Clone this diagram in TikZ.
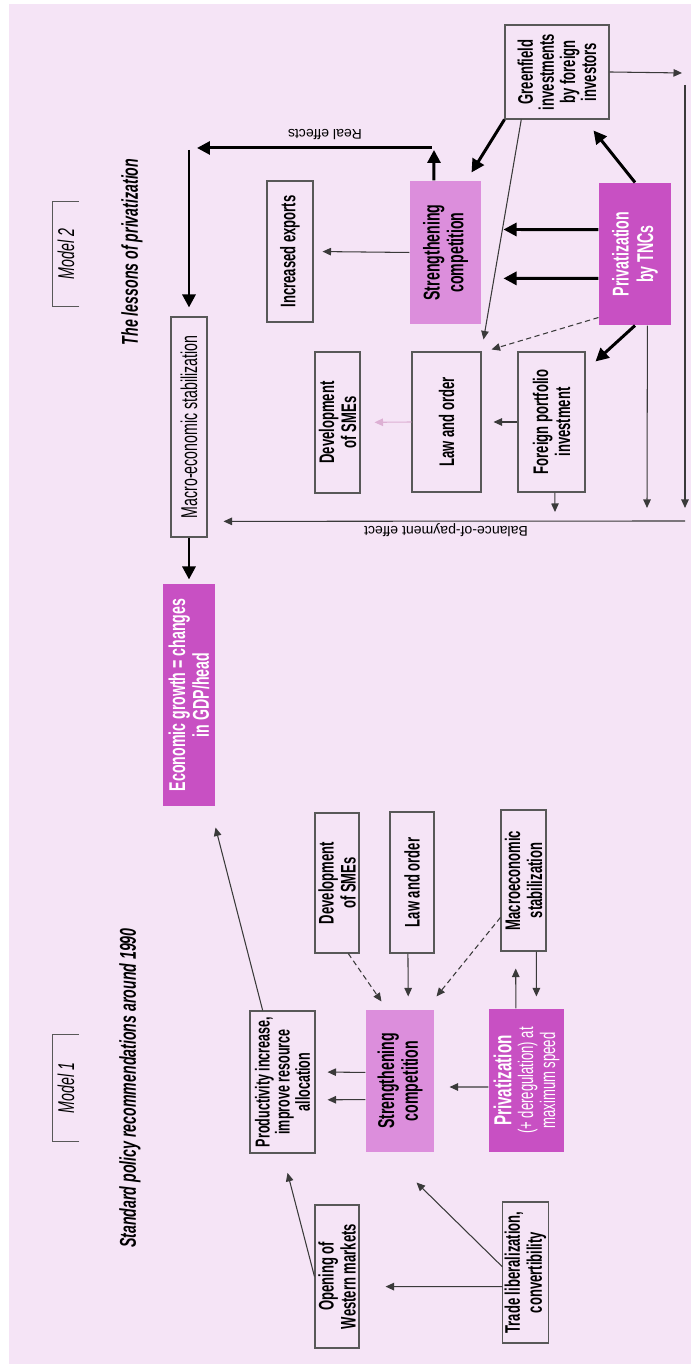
\documentclass[tikz,border=0pt]{standalone}
\usepackage{fontspec}
\setmainfont{Liberation Sans}[FakeStretch=0.62]
\newfontfamily\tagfont{Liberation Sans}
\usetikzlibrary{arrows.meta,calc}
\definecolor{bgpink}{HTML}{F5E4F6}
\definecolor{darkmag}{HTML}{C850C3}
\definecolor{lightmag}{HTML}{DC8EDC}
\definecolor{boxline}{HTML}{585858}
\definecolor{arrgray}{HTML}{3A3A3A}
\definecolor{faintline}{HTML}{DDB0D4}

\begin{document}
\begin{tikzpicture}[x=0.02cm, y=0.02cm, rotate=90, transform shape,
  box/.style={draw=boxline, line width=0.6pt, align=center, inner sep=1pt,
              font=\fontsize{12}{12.5}\selectfont\bfseries},
  hot/.style={box, draw=none, fill=darkmag, text=white},
  warm/.style={box, draw=none, fill=lightmag},
  sz/.style 2 args={minimum width=#1*0.02cm, minimum height=#2*0.02cm},
  big/.style={line width=1.7pt, -{Triangle[length=0.26cm,width=0.26cm]}},
  thin/.style={line width=0.6pt, draw=arrgray, -{Triangle[length=0.17cm,width=0.15cm]}},
  dsh/.style={thin, dash pattern=on 3pt off 2pt},
  tag/.style={font=\tagfont\fontsize{8}{9}\selectfont, inner sep=0pt},
  headline/.style={font=\fontsize{13}{14}\selectfont\bfseries\itshape, inner sep=0pt},
  modeltag/.style={font=\fontsize{13}{14}\selectfont\itshape, inner sep=0pt}
]
% page and background
\useasboundingbox (0,0) rectangle (1364,691);
\fill[white] (0,0) rectangle (1364,691);
\fill[bgpink] (0,0) rectangle (1360,682);

% ---------------- Model 2 ----------------
\node[modeltag, sz={104}{26}] (mTwo) at (1110,625) {Model 2};
\draw[boxline, line width=0.6pt] (mTwo.south west) -- (mTwo.north west) -- (mTwo.north east) -- (mTwo.south east);
\node[headline] (tTwo) at (1112,559) {The lessons of privatization};

\node[box, sz={94}{104}, font=\fontsize{12}{12}\selectfont\bfseries] (green) at (1292,134) {Greenfield\\investments\\by foreign\\investors};
\node[warm, sz={143}{71}, font=\fontsize{13}{13.5}\selectfont\bfseries] (strB) at (1111.5,245.5) {Strengthening\\competition};
\node[hot, sz={142}{72}, font=\fontsize{13}{14}\selectfont\bfseries] (tnc) at (1110,56) {Privatization\\by TNCs};
\node[box, sz={141}{46}] (expo) at (1112.5,401) {Increased exports};
\node[box, sz={140}{69}] (lawB) at (942,244.5) {Law and order};
\node[box, sz={141}{45}] (smeB) at (941.5,353.5) {Development\\of SMEs};
\node[box, sz={140}{67}] (fpi) at (942,139.5) {Foreign portfolio\\investment};
\node[box, sz={220}{36}, font=\fontsize{13}{13}\selectfont] (macB) at (937,502) {Macro-economic stabilization};
\node[hot, sz={222}{52}, font=\fontsize{13}{13.5}\selectfont\bfseries] (growth) at (669,502) {Economic growth = changes\\in GDP/head};

% real effects loop back to stabilization
\coordinate (re1) at (1214,257);
\coordinate (re2) at (1216,259);
\coordinate (re3) at (1216,494);
\coordinate (re4) at (1214,502);
\draw[big] ($(strB.south east)!0.66!(strB.north east)$) -- (re1);
\draw[big] (re2) -- (re3);
\draw[big, shorten >=0.18cm] (re4) -- (macB.east);
\node[tag, rotate=90] (reLab) at (1229,366) {Real effects};

% privatization by TNCs
\draw[big, shorten >=0.44cm] ($(tnc.north west)!0.67!(tnc.north east)$) -- ($(strB.south west)!0.66!(strB.south east)$);
\draw[big, shorten >=0.44cm] ($(tnc.north west)!0.33!(tnc.north east)$) -- ($(strB.south west)!0.32!(strB.south east)$);
\draw[big] (tnc.east) -- ($(green.south west)+(-11,16)$);
\draw[big] (tnc.west) -- ($(fpi.south east)+(-10,-10)$);
\draw[big] (green.north west) -- ($(strB.south east)+(8,10)$);
\draw[dsh] ($(tnc.north west)+(8,0)$) -- ($(lawB.south east)+(2,-10)$);
\draw[thin] ($(green.south west)!0.84!(green.north west)$) -- ($(lawB.south east)+(12,-2)$);

\draw[thin, shorten >=0.18cm] (strB.north) -- (expo.south);
\draw[thin, shorten >=0.24cm] (fpi.north) -- (lawB.south);
\draw[thin, draw=faintline, shorten >=0.28cm] (lawB.north) -- (smeB.south);

% balance-of-payment effect
\coordinate (bp1) at (852,136);
\coordinate (bp2) at (856,44);
\coordinate (bp3) at (1291,9);
\coordinate (bp4) at (1279,6);
\coordinate (bp5) at (856,6);
\coordinate (bp6) at (843,6);
\draw[thin] ($(fpi.south west)!0.45!(fpi.north west)$) -- (bp1);
\draw[thin] ($(tnc.south west)!0.33!(tnc.north west)$) -- (bp2);
\draw[thin] (green.south) -- (bp3);
\draw[thin] (bp4) -- (bp5);
\draw[thin, shorten >=0.32cm] (bp6) -- ($(macB.south west)!0.073!(macB.south east)$);
\node[tag, rotate=90] (bpLab) at (834,245) {Balance-of-payment effect};

\draw[big, shorten >=0.08cm] (macB.west) -- (growth.east);

% ---------------- Model 1 ----------------
\node[modeltag, sz={107}{26}] (mOne) at (276,625) {Model 1};
\draw[boxline, line width=0.6pt] (mOne.south west) -- (mOne.north west) -- (mOne.north east) -- (mOne.south east);
\node[headline] (tOne) at (276,561) {Standard policy recommendations around 1990};

\node[box, sz={140}{44}] (smeA) at (481,354) {Development\\of SMEs};
\node[box, sz={141}{44}] (lawA) at (481.5,279) {Law and order};
\node[box, sz={141}{45}] (macA) at (483.5,167.5) {Macroeconomic\\stabilization};
\node[box, sz={142}{65}, font=\fontsize{11.5}{11.5}\selectfont\bfseries] (prod) at (282,408.5) {Productivity increase,\\improve resource\\allocation};
\node[warm, sz={142}{68}, font=\fontsize{13}{13.5}\selectfont\bfseries] (strA) at (283,291) {Strengthening\\competition};
\node[hot, sz={143}{75}, font=\fontsize{12}{12.5}\selectfont] (prvA) at (283.5,164.5) {{\bfseries\fontsize{14}{12.5}\selectfont Privatization}\\(+ deregulation) at\\maximum speed};
\node[box, sz={143}{44}] (open) at (87.5,354) {Opening of\\Western markets};
\node[box, sz={141}{45}] (trade) at (91.5,165.5) {Trade liberalization,\\convertibility};

\draw[thin] ($(prod.south east)!0.8!(prod.north east)$) -- ($(growth.south west)+(-21,0)$);
\draw[dsh] ($(smeA.south west)!0.25!(smeA.north west)$) -- ($(strA.north east)+(8,-16)$);
\draw[thin, shorten >=0.26cm] ($(lawA.south west)!0.59!(lawA.north west)$) -- ($(strA.south east)!0.38!(strA.north east)$);
\draw[dsh] ($(macA.north west)!0.24!(macA.north east)$) -- ($(strA.south east)+(13,-2)$);
\draw[thin, shorten >=0.34cm] ($(prvA.south east)!0.64!(prvA.north east)$) -- ($(macA.south west)!0.67!(macA.north west)$);
\draw[thin, shorten >=0.24cm] ($(macA.south west)!0.22!(macA.north west)$) -- ($(prvA.south east)!0.37!(prvA.north east)$);
\draw[thin, shorten >=0.24cm] ($(strA.north west)!0.56!(strA.north east)$) -- ($(prod.south west)!0.57!(prod.south east)$);
\draw[thin, shorten >=0.24cm] ($(strA.north west)!0.37!(strA.north east)$) -- ($(prod.south west)!0.375!(prod.south east)$);
\draw[thin, shorten >=0.30cm] ($(prvA.north west)!0.455!(prvA.north east)$) -- ($(strA.south west)!0.458!(strA.south east)$);
\draw[thin, shorten >=0.40cm] (open.north) -- (prod.west);
\draw[thin] ($(trade.north west)!0.54!(trade.north east)$) -- ($(strA.south west)+(-30,18)$);
\draw[thin, shorten >=0.52cm] ($(trade.north west)!0.4!(trade.north east)$) -- ($(open.south west)!0.43!(open.south east)$);
\end{tikzpicture}
\end{document}
